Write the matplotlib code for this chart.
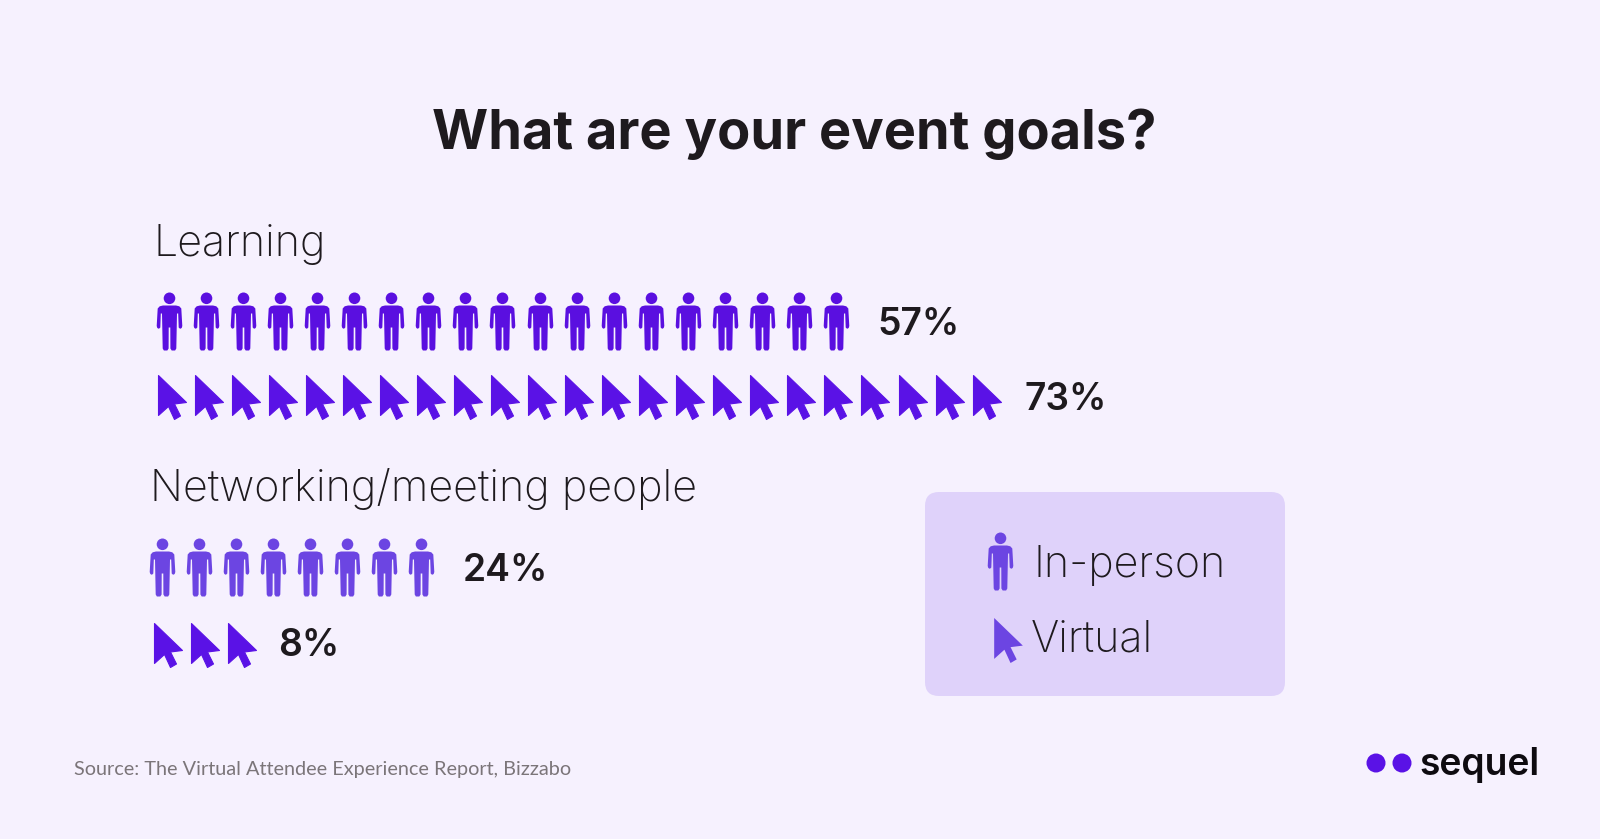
import matplotlib
matplotlib.use('Agg')

import numpy as np
import matplotlib.pyplot as plt
from matplotlib.path import Path
from matplotlib.patches import FancyBboxPatch, Circle

TITLE = 'What are your event goals?'
GROUPS = ['Learning', 'Networking/meeting people']
IN_PERSON_PCT = [57, 24]
VIRTUAL_PCT = [73, 8]
# one icon is roughly 3 percent, as counted in the picture
IN_PERSON_ICONS = [19, 8]
VIRTUAL_ICONS = [23, 3]
LEGEND_LABELS = ['In-person', 'Virtual']
SOURCE = 'Source: The Virtual Attendee Experience Report, Bizzabo'
LOGO = 'sequel'

BG = '#F6F1FE'
PANEL = '#DFD2FA'
DARK = '#1E1A1E'
PURPLE = '#5A0FE0'
PURPLE_LIGHT = '#6C45E2'
PURPLE_CURSOR = '#5A12E6'
STEP = 37.05


def person_marker():
    # drawn in reference pixels, measured from the middle of the icon, y up
    half = [(0, 16), (6.5, 16), (9.8, 15.2), (11.8, 13), (12.8, -4.5), (12.2, -6.5), (10.6, -7.3),
            (9.2, -6), (8.7, 8), (7.5, 8), (6.8, -27), (5.6, -29), (2.2, -29), (0.9, -27),
            (0.8, -6), (0, -6)]
    other = [(-x, y) for x, y in half[::-1]]
    verts = half + other[1:-1] + [half[0]]
    codes = [Path.MOVETO] + [Path.LINETO] * (len(verts) - 2) + [Path.CLOSEPOLY]
    body = Path(verts, codes)
    head = Path.circle((0, 23.2), 5.8)
    return Path.make_compound_path(head, body)


def cursor_marker():
    pts = np.array([(0, 0), (28, 27), (16, 28.5), (22, 40.5), (16, 44), (10, 31), (0, 40), (0, 0)], dtype=float)
    pts = pts - [14, 22]
    pts[:, 1] = -pts[:, 1]
    codes = [Path.MOVETO] + [Path.LINETO] * 6 + [Path.CLOSEPOLY]
    return Path(pts, codes)


def size_for(height_px):
    # scatter normalises a custom marker to its largest coordinate
    return (height_px * 72 / 100) ** 2


def icon_row(ax, n, x0, y, marker, height, color, lw=0.0):
    xs = x0 + STEP * np.arange(n)
    ax.scatter(xs, np.full(n, y), marker=marker, s=size_for(height), color=color,
               linewidths=lw, edgecolors=color, joinstyle='round', zorder=3)
    return xs


fig = plt.figure(figsize=(16, 8.39), dpi=100, facecolor=BG)
ax = fig.add_axes([0, 0, 1, 1])
ax.set_xlim(0, 1600)
ax.set_ylim(839, 0)
ax.axis('off')

person = person_marker()
cursor = cursor_marker()

ax.text(794, 149, TITLE, fontsize=39, family='Inter', weight='bold', color=DARK, ha='center', va='baseline')

# group headings
label_style = dict(fontsize=31, family='Inter', weight='light', color=DARK, va='baseline')
ax.text(154, 256, GROUPS[0], **label_style)
ax.text(150, 501, GROUPS[1], **label_style)

# Learning
icon_row(ax, IN_PERSON_ICONS[0], 169, 321, person, 58, PURPLE)
icon_row(ax, VIRTUAL_ICONS[0], 171.5, 397, cursor, 44, PURPLE_CURSOR, lw=0.8)
# Networking
icon_row(ax, IN_PERSON_ICONS[1], 162, 567, person, 58, PURPLE_LIGHT)
icon_row(ax, VIRTUAL_ICONS[1], 168, 645, cursor, 44, PURPLE_CURSOR, lw=0.8)

pct_style = dict(fontsize=26.8, family='Inter', weight='semibold', color=DARK, va='baseline')
ax.text(877, 335, f'{IN_PERSON_PCT[0]}%', **pct_style)
ax.text(1024, 410, f'{VIRTUAL_PCT[0]}%', **pct_style)
ax.text(463, 581, f'{IN_PERSON_PCT[1]}%', **pct_style)
ax.text(278, 656, f'{VIRTUAL_PCT[1]}%', **pct_style)

# legend panel
panel = FancyBboxPatch((937, 504), 336, 180, boxstyle='round,pad=12,rounding_size=14',
                       facecolor=PANEL, edgecolor='none', zorder=1)
ax.add_patch(panel)
ax.scatter([1000], [561], marker=person, s=size_for(58), color=PURPLE_LIGHT, linewidths=0, zorder=3)
ax.scatter([1008], [639.5], marker=cursor, s=size_for(45), color=PURPLE_LIGHT, linewidths=0, zorder=3)
ax.text(1034, 577, LEGEND_LABELS[0], **label_style)
ax.text(1031, 652, LEGEND_LABELS[1], **label_style)

ax.text(74, 775, SOURCE, fontsize=14.3, family='Lato', color='#7B7579', va='baseline')

# logo
ax.add_patch(Circle((1376, 763), 9.5, facecolor=PURPLE_CURSOR, edgecolor='none'))
ax.add_patch(Circle((1402, 763), 9.5, facecolor=PURPLE_CURSOR, edgecolor='none'))
ax.text(1419, 775, LOGO, fontsize=26.8, family='Inter', weight='semibold', color='#0E0B10', va='baseline')

fig.savefig('out.png', dpi=100, facecolor=BG)
